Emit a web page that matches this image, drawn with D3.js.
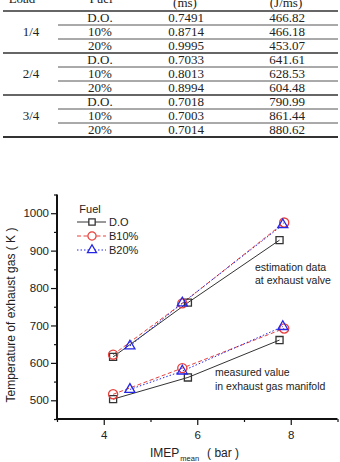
<!DOCTYPE html>
<html>
<head>
<meta charset="UTF-8" />
<script src="https://cdn.jsdelivr.net/npm/d3@7/dist/d3.min.js"></script>
<style>
  html, body { margin: 0; padding: 0; background: #fff; }
  svg { display: block; }
</style>
</head>
<body>
<div id="chart"></div>
<script>
// table data (top part of the figure)
const tableLoads = ["1/4", "2/4", "3/4"];
const tableFuels = ["D.O.", "10%", "20%"];
const delayMs = ["0.7491", "0.8714", "0.9995", "0.7033", "0.8013", "0.8994", "0.7018", "0.7003", "0.7014"];
const heatRate = ["466.82", "466.18", "453.07", "641.61", "628.53", "604.48", "790.99", "861.44", "880.62"];

// chart data
const fuels = ["D.O", "B10%", "B20%"];
const imepDO = [4.2, 5.8, 7.76];
const imepB10 = [4.2, 5.68, 7.86];
const imepB20 = [4.56, 5.68, 7.83];
const estDO = [616, 761, 928];
const estB10 = [622, 759, 975];
const estB20 = [645, 760, 969];
const measDO = [503, 561, 661];
const measB10 = [516, 586, 692];
const measB20 = [529, 578, 697];
const xMajor = [4, 6, 8];
const xMinor = [3, 5, 7, 9];
const yMajor = [500, 600, 700, 800, 900, 1000];
const yMinor = [450, 550, 650, 750, 850, 950, 1050];

const W = 340, H = 462;
const svg = d3.select("#chart").append("svg")
    .attr("width", W).attr("height", H)
    .attr("viewBox", [0, 0, W, H]);

// ---- table ----
const tbl = svg.append("g")
    .attr("font-family", "'Liberation Serif', 'Times New Roman', serif")
    .attr("font-size", 13)
    .attr("fill", "#222");

const colX = [31, 100, 186, 287];
tbl.append("text").attr("x", 22).attr("y", 3.3).attr("text-anchor", "middle").text("Load");
tbl.append("text").attr("x", 101).attr("y", 3.3).attr("text-anchor", "middle").text("Fuel");
tbl.append("text").attr("x", 185).attr("y", 6.5).attr("text-anchor", "middle").text("(ms)");
tbl.append("text").attr("x", 286).attr("y", 6.5).attr("text-anchor", "middle").text("(J/ms)");

const rowY = d3.range(10).map(i => 11 + i * 14.0);
rowY.forEach((ry, i) => {
    const full = i % 3 === 0;
    tbl.append("line")
        .attr("x1", full ? 3 : 58).attr("x2", 338)
        .attr("y1", ry).attr("y2", ry)
        .attr("stroke", full ? "#333" : "#555")
        .attr("stroke-width", i === 9 ? 2 : (full ? 1.5 : 1));
});

delayMs.forEach((d, i) => {
    const base = rowY[i] + 10.5;
    tbl.append("text").attr("x", colX[1]).attr("y", base).attr("text-anchor", "middle").text(tableFuels[i % 3]);
    tbl.append("text").attr("x", colX[2]).attr("y", base).attr("text-anchor", "middle").text(d);
    tbl.append("text").attr("x", colX[3]).attr("y", base).attr("text-anchor", "middle").text(heatRate[i]);
});
tableLoads.forEach((l, g) => {
    tbl.append("text").attr("x", colX[0]).attr("y", rowY[g * 3 + 1] + 10.5)
        .attr("text-anchor", "middle").text(l);
});

// ---- chart ----
const x = d3.scaleLinear().domain([3, 9]).range([57, 337.5]);
const y = d3.scaleLinear().domain([450, 1050]).range([419, 194.5]);
const sans = "'Liberation Sans', Arial, sans-serif";

const chart = svg.append("g").attr("font-family", sans);

// axis lines as filled bars (left + bottom)
chart.append("rect")
    .attr("x", x(3) - 1).attr("y", y(1050))
    .attr("width", 2).attr("height", y(450) - y(1050) + 1)
    .attr("fill", "#111");
chart.append("rect")
    .attr("x", x(3) - 1).attr("y", y(450) - 1)
    .attr("width", x(9) - x(3) + 1).attr("height", 2)
    .attr("fill", "#111");

// ticks
const xAxis = chart.append("g").attr("transform", `translate(0,${y(450)})`)
    .call(d3.axisBottom(x).tickValues(xMajor).tickSize(6).tickSizeOuter(0).tickFormat(d3.format("d")));
chart.append("g").attr("transform", `translate(0,${y(450)})`)
    .call(d3.axisBottom(x).tickValues(xMinor).tickSize(3).tickFormat(() => ""));
const yAxis = chart.append("g").attr("transform", `translate(${x(3)},0)`)
    .call(d3.axisLeft(y).tickValues(yMajor).tickSize(6).tickSizeOuter(0).tickPadding(2).tickFormat(d3.format("d")));
chart.append("g").attr("transform", `translate(${x(3)},0)`)
    .call(d3.axisLeft(y).tickValues(yMinor).tickSize(3).tickFormat(() => ""));

chart.selectAll(".domain").remove();
chart.selectAll(".tick line").attr("stroke", "#111").attr("stroke-width", 1.2);
chart.selectAll(".tick text").attr("font-family", sans).attr("font-size", 11.5).attr("fill", "#222");
xAxis.selectAll(".tick text").attr("dy", "0.95em");

// axis titles
chart.append("text")
    .attr("transform", `translate(15,${315}) rotate(-90)`)
    .attr("text-anchor", "middle").attr("font-size", 12).attr("fill", "#222")
    .text("Temperature of exhaust gas ( K )");
const xt = chart.append("text").attr("x", 150).attr("y", 457).attr("font-size", 12).attr("fill", "#222");
xt.append("tspan").text("IMEP");
xt.append("tspan").attr("font-size", 7.5).attr("dy", 4).attr("dx", 1).text("mean");
xt.append("tspan").attr("dy", -4).attr("dx", 8).text("( bar )");

// series
const styles = [
    { color: "#333", dash: null, symbol: d3.symbolSquare, size: 50 },
    { color: "#e8403c", dash: "4,2.5", symbol: d3.symbolCircle, size: 66 },
    { color: "#2525e6", dash: "1.5,2", symbol: d3.symbolTriangle, size: 44 }
];
const imeps = [imepDO, imepB10, imepB20];
const groups = [[estDO, estB10, estB20], [measDO, measB10, measB20]];
const lineGen = d3.line().x(d => x(d[0])).y(d => y(d[1]));

groups.forEach(grp => {
    grp.forEach((vals, k) => {
        const pts = vals.map((v, i) => [imeps[k][i], v]);
        chart.append("path").datum(pts)
            .attr("d", lineGen).attr("fill", "none")
            .attr("stroke", styles[k].color).attr("stroke-width", 1)
            .attr("stroke-dasharray", styles[k].dash);
    });
});
groups.forEach(grp => {
    grp.forEach((vals, k) => {
        const pts = vals.map((v, i) => [imeps[k][i], v]);
        chart.append("g").selectAll("path").data(pts).join("path")
            .attr("transform", d => `translate(${x(d[0])},${y(d[1])})`)
            .attr("d", d3.symbol(styles[k].symbol, styles[k].size))
            .attr("fill", "none").attr("stroke", styles[k].color).attr("stroke-width", 1.3);
    });
});

// legend
const lg = chart.append("g").attr("font-size", 11).attr("fill", "#222");
lg.append("text").attr("x", 90).attr("y", 213).attr("text-anchor", "middle").text("Fuel");
fuels.forEach((f, k) => {
    const ly = 222 + k * 14;
    lg.append("line").attr("x1", 77).attr("x2", 106).attr("y1", ly).attr("y2", ly)
        .attr("stroke", styles[k].color).attr("stroke-dasharray", styles[k].dash);
    lg.append("path").attr("transform", `translate(92,${ly})`)
        .attr("d", d3.symbol(styles[k].symbol, styles[k].size * 0.8))
        .attr("fill", "#fff").attr("stroke", styles[k].color).attr("stroke-width", 1.3);
    lg.append("text").attr("x", 109).attr("y", ly + 4).text(f);
});

// annotations
const ann = chart.append("g").attr("font-size", 10.5).attr("fill", "#222");
ann.append("text").attr("x", 255).attr("y", 271).text("estimation data");
ann.append("text").attr("x", 255).attr("y", 283.5).text("at exhaust valve");
ann.append("text").attr("x", 215).attr("y", 376).text("measured value");
ann.append("text").attr("x", 215).attr("y", 389.5).text("in exhaust gas manifold");
</script>
</body>
</html>
